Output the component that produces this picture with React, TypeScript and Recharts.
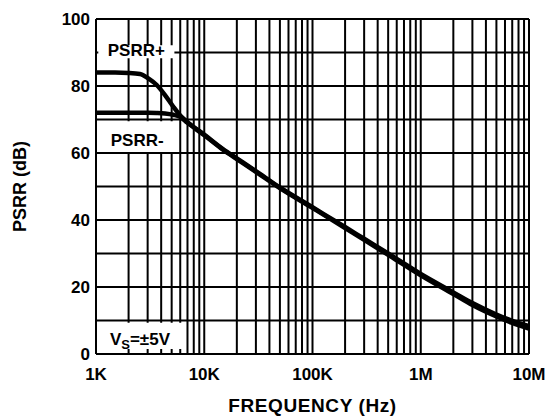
import React from "react";
import {
  LineChart,
  Line,
  XAxis,
  YAxis,
  CartesianGrid,
  ReferenceArea,
} from "recharts";

// frequency in Hz, PSRR in dB
const freqs = [
  1000, 1500, 2000, 2550, 3040, 3640, 4340, 5180, 5970, 7000, 10000, 15000,
  20000, 30000, 50000, 100000, 200000, 300000, 500000, 1000000, 2000000,
  3000000, 5000000, 7000000, 10000000,
];
const psrrPlus = [
  84, 84, 83.9, 83.6, 82.3, 80.3, 77.3, 73.8, 71.3, 69.2, 65.5, 61.1, 58.4,
  54.6, 49.7, 43.8, 37.9, 34.4, 30.0, 23.9, 18.4, 15.2, 11.8, 9.9, 8.3,
];
const psrrMinus = [
  72, 72, 72, 72, 72, 71.95, 71.8, 71.4, 70.8, 69.0, 65.3, 60.9, 58.2, 54.4,
  49.5, 43.6, 37.6, 34.1, 29.6, 23.5, 17.9, 14.6, 11.2, 9.3, 7.6,
];

const xTicks = [
  1000, 2000, 3000, 4000, 5000, 6000, 7000, 8000, 9000,
  10000, 20000, 30000, 40000, 50000, 60000, 70000, 80000, 90000,
  100000, 200000, 300000, 400000, 500000, 600000, 700000, 800000, 900000,
  1000000, 2000000, 3000000, 4000000, 5000000, 6000000, 7000000, 8000000, 9000000,
  10000000,
];
const decadeLabels: Record<number, string> = {
  1000: "1K",
  10000: "10K",
  100000: "100K",
  1000000: "1M",
  10000000: "10M",
};
const yTicks = [0, 10, 20, 30, 40, 50, 60, 70, 80, 90, 100];
const yLabels = [0, 20, 40, 60, 80, 100];

const data = freqs.map((f, i) => ({ f, plus: psrrPlus[i], minus: psrrMinus[i] }));

const FONT = "'Liberation Sans', Arial, Helvetica, sans-serif";

const XTick = (props: any) => {
  const { x, y, payload } = props;
  const label = decadeLabels[payload.value];
  if (!label) return <g />;
  return (
    <text x={x} y={y + 26} textAnchor="middle" fontSize={17} fontWeight="bold" fontFamily={FONT} fill="#000">
      {label}
    </text>
  );
};

const YTick = (props: any) => {
  const { x, y, payload } = props;
  if (!yLabels.includes(payload.value)) return <g />;
  return (
    <text x={x} y={y + 6} textAnchor="end" fontSize={17} fontWeight="bold" fontFamily={FONT} fill="#000">
      {payload.value}
    </text>
  );
};

const boxLabel = (content: React.ReactNode, dy: number) => (props: any) => {
  const vb = props.viewBox;
  return (
    <text
      x={vb.x + vb.width / 2}
      y={vb.y + vb.height / 2 + dy}
      textAnchor="middle"
      fontSize={17}
      fontWeight="bold"
      fontFamily={FONT}
      fill="#000"
    >
      {content}
    </text>
  );
};

export default function App() {
  return (
    <div style={{ position: "absolute", left: 0, top: 0 }}>
      <LineChart
        width={550}
        height={420}
        data={data}
        margin={{ top: 19, right: 21, bottom: 0, left: 0 }}
      >
        <CartesianGrid stroke="#000" strokeWidth={2} />
        <XAxis
          dataKey="f"
          type="number"
          scale="log"
          domain={[1000, 10000000]}
          ticks={xTicks}
          interval={0}
          height={66}
          tickLine={false}
          axisLine={false}
          tickSize={0}
          tickMargin={0}
          tick={<XTick />}
          allowDataOverflow
          label={(props: any) => {
            const vb = props.viewBox;
            return (
              <text
                x={vb.x + vb.width / 2}
                y={vb.y + 58}
                textAnchor="middle"
                fontSize={19}
                fontWeight="bold"
                fontFamily={FONT}
                letterSpacing={0.6}
                fill="#000"
              >
                FREQUENCY (Hz)
              </text>
            );
          }}
        />
        <YAxis
          type="number"
          domain={[0, 100]}
          ticks={yTicks}
          interval={0}
          width={96}
          tickLine={false}
          axisLine={false}
          tickSize={0}
          tickMargin={6}
          tick={<YTick />}
          label={(props: any) => {
            const vb = props.viewBox;
            const cx = vb.x + 26;
            const cy = vb.y + vb.height / 2;
            return (
              <text
                x={cx}
                y={cy}
                transform={`rotate(-90 ${cx} ${cy})`}
                textAnchor="middle"
                fontSize={18}
                fontWeight="bold"
                fontFamily={FONT}
                fill="#000"
              >
                PSRR (dB)
              </text>
            );
          }}
        />
        <ReferenceArea
          x1={1050}
          x2={5300}
          y1={88.3}
          y2={92.2}
          fill="#fff"
          fillOpacity={1}
          stroke="none"
          label={boxLabel("PSRR+", 4)}
        />
        <ReferenceArea
          x1={1050}
          x2={5500}
          y1={60.3}
          y2={69.5}
          fill="#fff"
          fillOpacity={1}
          stroke="none"
          label={boxLabel("PSRR-", 9)}
        />
        <ReferenceArea
          x1={1030}
          x2={6300}
          y1={1.5}
          y2={9.3}
          fill="#fff"
          fillOpacity={1}
          stroke="none"
          label={boxLabel(
            <>
              <tspan>V</tspan>
              <tspan fontSize={13} dy={4}>S</tspan>
              <tspan dy={-4}>=±5V</tspan>
            </>,
            9
          )}
        />
        <Line
          dataKey="plus"
          type="monotone"
          stroke="#000"
          strokeWidth={4.5}
          dot={false}
          isAnimationActive={false}
        />
        <Line
          dataKey="minus"
          type="monotone"
          stroke="#000"
          strokeWidth={4.5}
          dot={false}
          isAnimationActive={false}
        />
      </LineChart>
    </div>
  );
}
